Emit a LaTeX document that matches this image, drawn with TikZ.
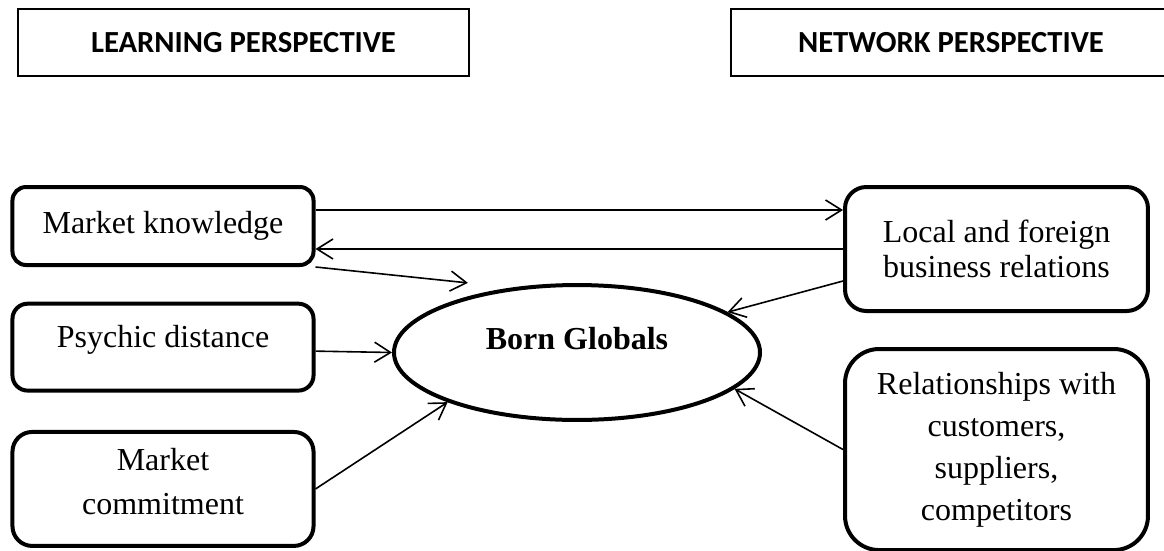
\documentclass[tikz,border=0pt]{standalone}
\usepackage{fontspec}
\setmainfont{Liberation Serif}
\newfontfamily\calibri{Carlito}
\usetikzlibrary{positioning, arrows.meta, shapes.geometric}
\tikzset{
  factor/.style={
    draw, line width=1.5pt, rounded corners=#1,
    minimum width=112.9pt, align=center, inner sep=2pt,
    font=\fontsize{12}{13.1}\selectfont
  },
  factor/.default=6pt,
  persp/.style={
    draw, line width=0.75pt,
    minimum width=169.1pt, minimum height=25.1pt,
    font=\calibri\bfseries\fontsize{11.5}{14}\selectfont
  },
  outcome/.style={
    draw, ellipse, line width=1.5pt, inner sep=0pt,
    minimum width=137.25pt, minimum height=50.6pt,
    font=\bfseries\fontsize{12}{14}\selectfont
  },
  fl/.style={
    -{Straight Barb[length=6pt, width=7.5pt]}, line width=0.6pt
  },
}

\begin{document}
\begin{tikzpicture}[x=0.375pt, y=-0.375pt]
\clip (0,0) rectangle (1164,550);

% perspective headers
\node[persp] (learn) at (243.5,42.5) {LEARNING PERSPECTIVE};
\node[persp, minimum width=165pt] (netw) at (951,42.5) {NETWORK PERSPECTIVE};

% learning side
\node[factor=5.1pt, minimum height=29.25pt] (mk) at (163,226) {Market knowledge};
\node[factor=5.7pt, minimum height=32.6pt, text height=0pt, text depth=0pt,
  below=13pt of mk] (pd) {Psychic distance};
\node[factor=7.4pt, minimum height=42.75pt, text depth=6pt, below=14pt of pd] (mc)
  {Market\\[3.4pt] commitment};

% network side
\node[factor=8pt, minimum width=113.6pt, minimum height=46.5pt] (lf) at (996.5,249)
  {Local and foreign\\ business relations};
\node[factor=12.8pt, minimum width=113.6pt, minimum height=75.4pt, below=12.75pt of lf] (rel)
  {Relationships with\\[2.6pt] customers,\\[2.6pt] suppliers,\\[2.6pt] competitors};

% outcome
\node[outcome] (bg) at (577,352.5) {\raisebox{1pt}[0pt][0pt]{Born Globals}};

% links
\draw[fl] ([yshift=6pt]mk.east) -- ([yshift=6pt]mk.east -| lf.west);
\draw[fl] (lf.west) -- (lf.west -| mk.east);
\draw[fl] (mk.south east) -- ([xshift=-40.9pt, yshift=26.1pt]bg.center);
\draw[fl] ([yshift=-12pt]lf.west) -- (bg.15);
\draw[fl] ([yshift=-1.5pt]pd.east) -- (bg.west);
\draw[fl] (mc.east) -- (bg.201);
\draw[fl] (rel.west) -- (bg.-13);

\end{tikzpicture}
\end{document}
